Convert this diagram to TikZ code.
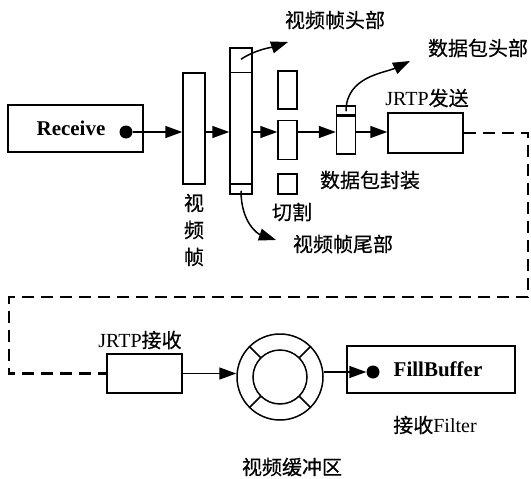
\documentclass[tikz,border=0pt]{standalone}
\usepackage{fontspec}
\setmainfont{Liberation Serif}
\newfontfamily\cjk[FakeBold=0.5]{Noto Sans CJK SC}
\usetikzlibrary{arrows.meta,positioning}

\begin{document}
\begin{tikzpicture}[x=1pt, y=-1pt,
  every node/.style={font=\fontsize{20}{27}\selectfont},
  box/.style={draw, line width=1.5pt, inner sep=0pt},
  dotmark/.style={circle, fill, inner sep=0pt, minimum size=13pt},
  arr/.style={line width=1.5pt, -{Triangle[length=17pt,width=12pt]}},
  link/.style={line width=2.4pt, dash pattern=on 12pt off 7pt}]
  \useasboundingbox[fill=white] (0,0) rectangle (531,479);
  % send side
  \node[box, minimum width=135pt, minimum height=47pt] (recv) at (75.5,128.5) {};
  \node[font=\fontsize{21}{24}\selectfont\bfseries] (recvtext) at (71,128) {Receive};
  \node[dotmark] (recvdot) at (126,132) {};
  \node[box, minimum width=22pt, minimum height=111pt] (frame) at (194,128.5) {};
  \node[align=center] (frametext) at (194,230) {\cjk 视\\\cjk 频\\\cjk 帧};
  \node[box, minimum width=22pt, minimum height=146pt] (split) at (241,121) {};
  \draw[line width=1.5pt] ([yshift=-25pt]split.north west) -- ([yshift=-25pt]split.north east);
  \draw[line width=1.5pt] ([yshift=11pt]split.south west) -- ([yshift=11pt]split.south east);
  \node[box, minimum width=19pt, minimum height=38pt] (cut1) at (287.5,90) {};
  \node[box, minimum width=19pt, minimum height=39pt] (cut2) at (287.5,140) {};
  \node[box, minimum width=19pt, minimum height=20pt] (cut3) at (287.5,184) {};
  \node[box, minimum width=19pt, minimum height=48pt] (pkt) at (346,130) {};
  \draw[line width=2.8pt] ([yshift=-10pt]pkt.north west) -- ([yshift=-10pt]pkt.north east);
  \node[box, minimum width=75pt, minimum height=40pt] (tx) at (425.5,133) {};
  \draw[arr] (recvdot) -- (recvdot -| frame.west);
  \draw[arr] (recvdot -| frame.east) -- (recvdot -| split.west);
  \draw[arr] (recvdot -| split.east) -- (recvdot -| cut2.west);
  \draw[arr] (recvdot -| cut2.east) -- (recvdot -| pkt.west);
  \draw[arr] (recvdot -| pkt.east) -- (recvdot -| tx.west);
  \draw[arr] ([yshift=-12pt]split.north) .. controls +(15,-10) and +(-15,5) .. (288,42);
  \draw[arr] ([yshift=4pt]split.south) .. controls +(0,32) and +(-18,-6) .. (276,240);
  \draw[arr] ([yshift=-6pt]pkt.north) .. controls +(0,-35) and +(-25,12) .. (410,61);
  \node (headtext) at (335,20) {\cjk 视频帧头部};
  \node (pkthead) at (478,48) {\cjk 数据包头部};
  \node (txtext) at (427,98) {JRTP\cjk 发送};
  \node (pkttext) at (370,180) {\cjk 数据包封装};
  \node (cuttext) at (292,212) {\cjk 切割};
  \node (tailtext) at (343,244) {\cjk 视频帧尾部};
  % receive side
  \node[box, minimum width=75pt, minimum height=39pt] (rx) at (144.5,373.5) {};
  \node (rxtext) at (140,340) {JRTP\cjk 接收};
  \node[circle, draw, line width=1.5pt, minimum size=86pt, inner sep=0pt] (buf) at (280,377) {};
  \draw[line width=1.5pt] (buf.center) circle[radius=27pt];
  \foreach \a in {45,135,225,315}
    \draw[line width=1.5pt] (buf.center) ++(\a:27) -- ++(\a:16);
  \node (buftext) at (292,467) {\cjk 视频缓冲区};
  \node[box, minimum width=168pt, minimum height=47pt] (fill) at (431,369.5) {};
  \node[font=\fontsize{21}{24}\selectfont\bfseries] (filltext) at (438,369) {FillBuffer};
  \node[dotmark] (filldot) at (373,372) {};
  \node (filtertext) at (435,425) {\cjk 接收\rmfamily Filter};
  \draw[arr] (rx.east) -- (rx.east -| buf.west);
  \draw[arr] (filldot -| buf.east) -- (filldot.west);
  \draw[link] (tx.east) -| ++(64,164) -| ([xshift=-97pt]rx.west) -- (rx.west);
\end{tikzpicture}
\end{document}
